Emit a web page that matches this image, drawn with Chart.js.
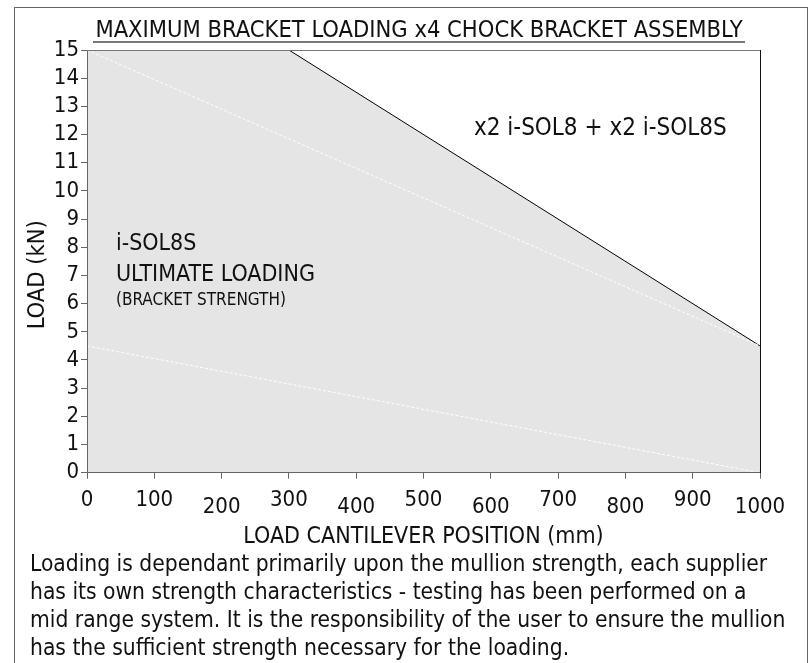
<!DOCTYPE html>
<html>
<head>
<meta charset="utf-8">
<script src="https://cdn.jsdelivr.net/npm/chart.js@4.4.1/dist/chart.umd.min.js"></script>
<style>
    body { margin: 0; background: #fff; }
    #wrap { position: relative; width: 812px; height: 663px; overflow: hidden; color: #111;
        font-family: "DejaVu Sans Condensed", "DejaVu Sans", sans-serif; }
    #frame { position: absolute; left: 14px; top: 7px; width: 792px; height: 700px;
        border: 1px solid #666; border-bottom: none; }
    #title { position: absolute; left: 93px; top: 17px; width: 652px; text-align: center;
        font-size: 23.5px; line-height: 24px; border-bottom: 2px solid #777; white-space: nowrap; }
    #note { position: absolute; left: 30px; top: 549px; font-size: 22.6px; line-height: 28px; white-space: nowrap; }
    #chart { position: absolute; left: 0; top: 0; }
</style>
</head>
<body>
<div id="wrap">
    <div id="frame"></div>
    <canvas id="chart" width="812" height="560"></canvas>
    <div id="title">MAXIMUM BRACKET LOADING x4 CHOCK BRACKET ASSEMBLY</div>
    <div id="note">Loading is dependant primarily upon the mullion strength, each supplier<br>has its own strength characteristics - testing has been performed on a<br>mid range system. It is the responsibility of the user to ensure the mullion<br>has the sufficient strength necessary for the loading.</div>
</div>
<script>
const FONT = '"DejaVu Sans Condensed", "DejaVu Sans", sans-serif';

// cantilever positions (mm) and loads (kN)
const positions = [0, 1000];
const assemblyLoad = [19.5, 4.5];   // x2 i-SOL8 + x2 i-SOL8S (black line, grey area)
const ultimateLoad = [15, 4.5];     // i-SOL8S ultimate loading
const bracketLoad = [4.5, 0];       // bracket strength

const xTicks = [0, 100, 200, 300, 400, 500, 600, 700, 800, 900, 1000];
const yTicks = [0, 1, 2, 3, 4, 5, 6, 7, 8, 9, 10, 11, 12, 13, 14, 15];

const notes = [
    { text: 'x2 i-SOL8 + x2 i-SOL8S', x: 575, y: 12.2, size: 24 },
    { text: 'i-SOL8S', x: 43, y: 8.1, size: 23 },
    { text: 'ULTIMATE LOADING', x: 43, y: 7.0, size: 23 },
    { text: '(BRACKET STRENGTH)', x: 43, y: 6.1, size: 17 },
];

const toPoints = (ys) => positions.map((x, i) => ({ x, y: ys[i] }));

// text placed in data coordinates
const notePlugin = {
    id: 'notes',
    afterDatasetsDraw(chart) {
        const { ctx, scales: { x, y } } = chart;
        ctx.save();
        ctx.fillStyle = '#111';
        ctx.textBaseline = 'middle';
        ctx.textAlign = 'left';
        notes.forEach((n) => {
            ctx.font = n.size + 'px ' + FONT;
            ctx.fillText(n.text, x.getPixelForValue(n.x), y.getPixelForValue(n.y));
        });
        ctx.restore();
    },
};

const frameBorder = (color) => ({ display: true, color, width: 1, z: 1 });

new Chart(document.getElementById('chart'), {
    type: 'line',
    data: {
        datasets: [
            {
                data: toPoints(ultimateLoad),
                borderColor: '#ffffff',
                borderWidth: 1,
                borderDash: [3, 2],
                pointRadius: 0,
                order: 1,
            },
            {
                data: toPoints(bracketLoad),
                borderColor: '#ffffff',
                borderWidth: 1,
                borderDash: [3, 2],
                pointRadius: 0,
                order: 1,
            },
            {
                data: toPoints(assemblyLoad),
                borderColor: '#000000',
                borderWidth: 1,
                backgroundColor: '#e5e5e5',
                fill: 'origin',
                pointRadius: 0,
                order: 2,
            },
        ],
    },
    options: {
        responsive: false,
        animation: false,
        events: [],
        layout: { padding: { top: 50, right: 52, left: 0, bottom: 0 } },
        plugins: { legend: { display: false }, tooltip: { enabled: false } },
        scales: {
            x: {
                type: 'linear',
                position: 'bottom',
                min: 0,
                max: 1000,
                afterBuildTicks: (axis) => { axis.ticks = xTicks.map((v) => ({ value: v })); },
                afterFit: (axis) => { axis.height = 87.3; },
                grid: { drawOnChartArea: false, tickLength: 6, tickColor: '#666' },
                border: frameBorder('#666'),
                ticks: {
                    color: '#111',
                    padding: 22,
                    maxRotation: 0,
                    autoSkip: false,
                    crossAlign: 'far',
                    callback: (v) => String(v),
                    // staggered labels: 0 and the odd hundreds sit higher
                    font: (c) => ({
                        family: FONT,
                        size: 22,
                        lineHeight: (c.index === 0 || c.index % 2 === 1) ? 1.5 : 1.2,
                    }),
                },
                title: {
                    display: true,
                    text: 'LOAD CANTILEVER POSITION (mm)',
                    color: '#111',
                    font: { family: FONT, size: 23 },
                    padding: { top: 0, bottom: 9 },
                },
            },
            y: {
                min: 0,
                max: 15,
                afterBuildTicks: (axis) => { axis.ticks = yTicks.map((v) => ({ value: v })); },
                afterFit: (axis) => { axis.width = 87; },
                grid: { drawOnChartArea: false, tickLength: 6, tickColor: '#666' },
                border: frameBorder('#666'),
                ticks: { color: '#111', padding: 2, autoSkip: false, font: { family: FONT, size: 22 } },
                title: {
                    display: true,
                    // trailing spaces nudge the centred title down the axis, as in the reference
                    text: 'LOAD (kN)    ',
                    color: '#111',
                    font: { family: FONT, size: 23.5 },
                    padding: { top: 24 },
                },
            },
            top: {
                type: 'linear',
                position: 'top',
                min: 0,
                max: 1000,
                afterFit: (axis) => { axis.height = 0; },
                grid: { display: false },
                ticks: { display: false },
                border: frameBorder('#777'),
            },
            right: {
                type: 'linear',
                position: 'right',
                min: 0,
                max: 15,
                afterFit: (axis) => { axis.width = 0; },
                grid: { display: false },
                ticks: { display: false },
                border: frameBorder('#111'),
            },
        },
    },
    plugins: [notePlugin],
});
</script>
</body>
</html>
